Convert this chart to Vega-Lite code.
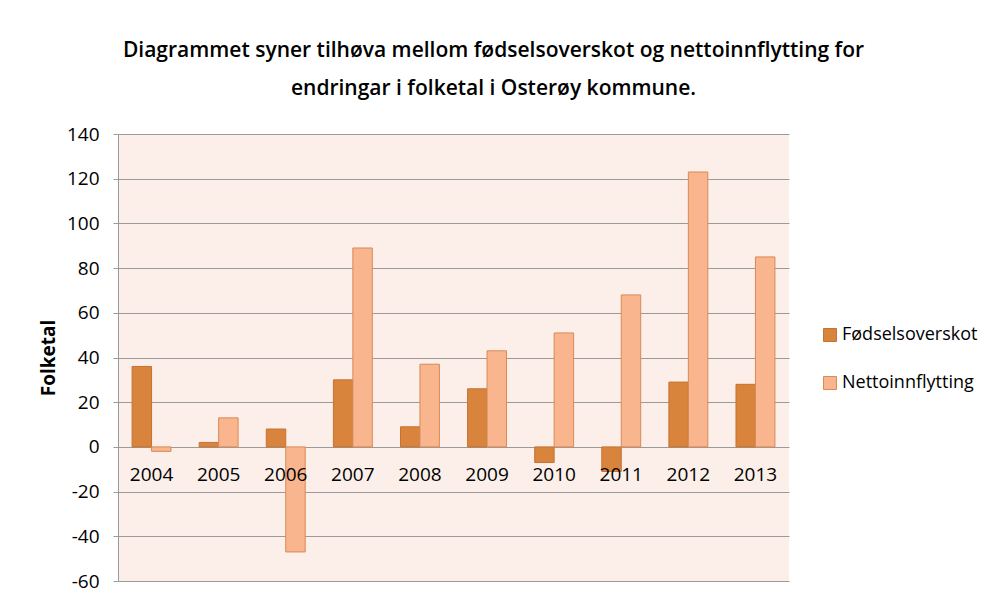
{
  "$schema": "https://vega.github.io/schema/vega-lite/v6.json",
  "width": 671,
  "height": 447,
  "autosize": "none",
  "padding": {"left": 118, "top": 134, "right": 197, "bottom": 17},
  "background": "white",
  "title": {
    "text": ["Diagrammet syner tilhøva mellom fødselsoverskot og nettoinnflytting for", "endringar i folketal i Osterøy kommune."],
    "font": "Open Sans",
    "fontSize": 21,
    "fontWeight": 600,
    "color": "#000000",
    "anchor": "middle",
    "dx": 40,
    "offset": 5,
    "lineHeight": 38,
    "baseline": "bottom"
  },
  "data": {
    "values": [
      {"year": "2004", "series": "Fødselsoverskot", "value": 36},
      {"year": "2004", "series": "Nettoinnflytting", "value": -2},
      {"year": "2005", "series": "Fødselsoverskot", "value": 2},
      {"year": "2005", "series": "Nettoinnflytting", "value": 13},
      {"year": "2006", "series": "Fødselsoverskot", "value": 8},
      {"year": "2006", "series": "Nettoinnflytting", "value": -47},
      {"year": "2007", "series": "Fødselsoverskot", "value": 30},
      {"year": "2007", "series": "Nettoinnflytting", "value": 89},
      {"year": "2008", "series": "Fødselsoverskot", "value": 9},
      {"year": "2008", "series": "Nettoinnflytting", "value": 37},
      {"year": "2009", "series": "Fødselsoverskot", "value": 26},
      {"year": "2009", "series": "Nettoinnflytting", "value": 43},
      {"year": "2010", "series": "Fødselsoverskot", "value": -7},
      {"year": "2010", "series": "Nettoinnflytting", "value": 51},
      {"year": "2011", "series": "Fødselsoverskot", "value": -11},
      {"year": "2011", "series": "Nettoinnflytting", "value": 68},
      {"year": "2012", "series": "Fødselsoverskot", "value": 29},
      {"year": "2012", "series": "Nettoinnflytting", "value": 123},
      {"year": "2013", "series": "Fødselsoverskot", "value": 28},
      {"year": "2013", "series": "Nettoinnflytting", "value": 85}
    ]
  },
  "mark": {"type": "bar", "strokeWidth": 1},
  "encoding": {
    "x": {
      "field": "year",
      "type": "nominal",
      "scale": {"paddingInner": 0.42, "paddingOuter": 0.21},
      "axis": {
        "title": null,
        "labelAngle": 0,
        "offset": -134,
        "domain": false,
        "ticks": false,
        "zindex": 1,
        "labelPadding": 18,
        "labelFont": "Open Sans",
        "labelFontSize": 19,
        "labelColor": "#000000"
      }
    },
    "xOffset": {"field": "series", "type": "nominal", "scale": {"paddingInner": 0}},
    "y": {
      "field": "value",
      "type": "quantitative",
      "scale": {"domain": [-60, 140], "nice": false},
      "axis": {
        "values": [-60, -40, -20, 0, 20, 40, 60, 80, 100, 120, 140],
        "labelExpr": "'' + datum.value",
        "title": "Folketal",
        "titleFont": "Open Sans",
        "titleFontSize": 19,
        "titleFontWeight": "bold",
        "titleColor": "#000000",
        "titleX": -60,
        "labelFont": "Open Sans",
        "labelFontSize": 19,
        "labelColor": "#000000",
        "labelPadding": 14,
        "tickSize": 5,
        "tickColor": "#9a9a9a",
        "domainColor": "#9a9a9a",
        "gridColor": "#9a9a9a",
        "gridWidth": 1.2,
        "gridOpacity": 1
      }
    },
    "color": {
      "field": "series",
      "type": "nominal",
      "scale": {"domain": ["Fødselsoverskot", "Nettoinnflytting"], "range": ["#d9843d", "#f8b58e"]},
      "legend": {
        "title": null,
        "orient": "none",
        "legendX": 703,
        "legendY": 192,
        "symbolType": "square",
        "symbolSize": 169,
        "symbolStrokeWidth": 1,
        "labelFont": "Open Sans",
        "labelFontSize": 18,
        "labelColor": "#000000",
        "rowPadding": 30,
        "labelOffset": 3
      }
    },
    "stroke": {
      "field": "series",
      "type": "nominal",
      "scale": {"domain": ["Fødselsoverskot", "Nettoinnflytting"], "range": ["#c67232", "#d98a55"]},
      "legend": null
    }
  },
  "config": {
    "view": {"fill": "#fcefe9", "stroke": null}
  }
}
